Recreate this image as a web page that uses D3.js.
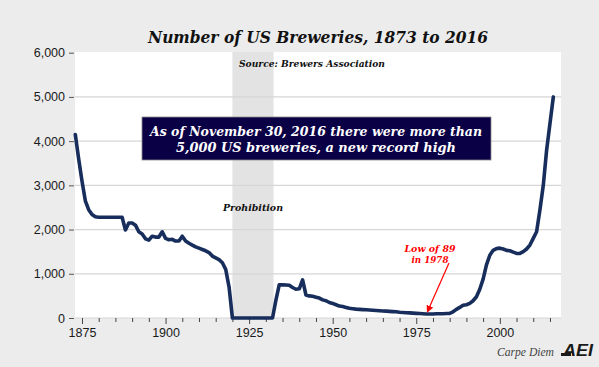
<!DOCTYPE html>
<html>
<head>
<meta charset="utf-8">
<script src="https://cdn.jsdelivr.net/npm/d3@7"></script>
<style>
  html, body { margin: 0; padding: 0; background: #ececec; }
  svg { display: block; }
</style>
</head>
<body>
<div id="chart"></div>
<script>
// Number of US breweries per year
const years = [
  1873, 1874, 1875, 1876, 1877, 1878, 1879, 1880, 1881, 1882, 1883, 1884, 1885, 1886, 1887,
  1888, 1889, 1890, 1891, 1892, 1893, 1894, 1895, 1896, 1897, 1898, 1899, 1900, 1901, 1902,
  1903, 1904, 1905, 1906, 1907, 1908, 1909, 1910, 1911, 1912, 1913, 1914, 1915, 1916, 1917,
  1918, 1919, 1920, 1921, 1922, 1923, 1924, 1925, 1926, 1927, 1928, 1929, 1930, 1931, 1932,
  1933, 1934, 1935, 1936, 1937, 1938, 1939, 1940, 1941, 1942, 1943, 1944, 1945, 1946, 1947,
  1948, 1949, 1950, 1951, 1952, 1953, 1954, 1955, 1956, 1957, 1958, 1959, 1960, 1961, 1962,
  1963, 1964, 1965, 1966, 1967, 1968, 1969, 1970, 1971, 1972, 1973, 1974, 1975, 1976, 1977,
  1978, 1979, 1980, 1981, 1982, 1983, 1984, 1985, 1986, 1987, 1988, 1989, 1990, 1991, 1992,
  1993, 1994, 1995, 1996, 1997, 1998, 1999, 2000, 2001, 2002, 2003, 2004, 2005, 2006, 2007,
  2008, 2009, 2010, 2011, 2012, 2013, 2014, 2015, 2016
];
const breweries = [
  4150, 3600, 3100, 2650, 2450, 2340, 2290, 2280, 2280, 2280, 2280, 2280, 2280, 2280, 2280,
  1990, 2150, 2150, 2100, 1950, 1900, 1790, 1760, 1850, 1830, 1830, 1950, 1800, 1770, 1780,
  1740, 1740, 1850, 1740, 1690, 1650, 1610, 1580, 1550, 1520, 1480, 1400, 1360, 1320, 1250,
  1100, 700, 0, 0, 0, 0, 0, 0, 0, 0, 0, 0, 0, 0, 0,
  400, 750, 750, 745, 740, 690, 650, 660, 860, 520, 500, 490, 470, 450, 410,
  390, 350, 330, 300, 270, 260, 240, 220, 210, 200, 195, 190, 185, 180, 175,
  170, 165, 160, 155, 150, 145, 140, 130, 125, 120, 115, 110, 105, 100, 95,
  89, 90, 92, 95, 95, 95, 100, 105, 140, 195, 240, 290, 300, 330, 390,
  480, 650, 880, 1200, 1420, 1530, 1570, 1580, 1560, 1530, 1520, 1490, 1460, 1460, 1500,
  1560, 1650, 1800, 1950, 2450, 3000, 3800, 4400, 5000
];
const yTicks = [0, 1000, 2000, 3000, 4000, 5000, 6000];
const xLabelYears = [1875, 1900, 1925, 1950, 1975, 2000];
const prohibition = [1920, 1932.3];
const lowPoint = { year: 1978, value: 89 };

const width = 599, height = 367;
const plot = { left: 75, right: 561, top: 52, bottom: 318 };

const svg = d3.select("#chart").append("svg")
    .attr("width", width)
    .attr("height", height);

svg.append("rect")
    .attr("width", width).attr("height", height)
    .attr("fill", "#ececec");

const x = d3.scaleLinear()
    .domain([1873, 2018])
    .range([75.3, 560]);

const y = d3.scaleLinear()
    .domain([0, 6000])
    .range([318, 52.7]);

// white plot area
svg.append("rect")
    .attr("x", plot.left).attr("y", plot.top)
    .attr("width", plot.right - plot.left)
    .attr("height", plot.bottom - plot.top)
    .attr("fill", "#fff");

// prohibition shading
svg.append("rect")
    .attr("x", x(prohibition[0]))
    .attr("y", plot.top)
    .attr("width", x(prohibition[1]) - x(prohibition[0]))
    .attr("height", plot.bottom - plot.top)
    .attr("fill", "#e3e3e3");

// gridlines
svg.append("g")
    .selectAll("line")
    .data(yTicks.filter(d => d < 6000))
    .enter().append("line")
    .attr("x1", plot.left).attr("x2", plot.right)
    .attr("y1", d => y(d)).attr("y2", d => y(d))
    .attr("stroke", "#d6d6d6")
    .attr("stroke-width", 1.2);

// y axis
const yAxis = svg.append("g")
    .attr("transform", `translate(${plot.left - 1},0)`)
    .call(d3.axisLeft(y).tickValues(yTicks).tickSize(5).tickPadding(4).tickFormat(d3.format(",")));
yAxis.select(".domain").remove();
yAxis.selectAll(".tick line").attr("stroke", "#555");
yAxis.selectAll("text")
    .attr("fill", "#1a1a1a")
    .style("font-family", "'Liberation Sans', Arial, sans-serif")
    .style("font-size", "12.5px");

// x axis: minor ticks every 5 years, labels every 25
const xAxis = svg.append("g")
    .attr("transform", `translate(0,${plot.bottom})`)
    .call(d3.axisBottom(x).tickValues(d3.range(1875, 2016, 5)).tickSize(4)
        .tickFormat(d => xLabelYears.includes(d) ? d : ""));
xAxis.select(".domain").remove();
xAxis.selectAll(".tick line")
    .attr("stroke", "#444")
    .attr("y2", d => xLabelYears.includes(d) ? 6 : 4);
xAxis.selectAll("text")
    .attr("y", 10)
    .attr("fill", "#1a1a1a")
    .style("font-family", "'Liberation Sans', Arial, sans-serif")
    .style("font-size", "12.5px");

// the line
const series = years.map((yr, i) => ({ year: yr, value: breweries[i] }));
const line = d3.line()
    .x(d => x(d.year))
    .y(d => y(d.value));

svg.append("path")
    .datum(series)
    .attr("d", line)
    .attr("fill", "none")
    .attr("stroke", "#172d5b")
    .attr("stroke-width", 3.6)
    .attr("stroke-linejoin", "round")
    .attr("stroke-linecap", "round");

const serif = "'DejaVu Serif', Georgia, serif";

// serif label with a fixed span width (Georgia is not installed)
function label(px, py, txt, size, span, opts = {}) {
    return svg.append("text")
        .attr("x", px).attr("y", py)
        .attr("text-anchor", "middle")
        .style("font-family", serif)
        .style("font-style", "italic")
        .style("font-weight", opts.bold === false ? "normal" : "bold")
        .style("font-size", size + "px")
        .attr("textLength", span)
        .attr("lengthAdjust", "spacingAndGlyphs")
        .attr("fill", opts.fill || "#111")
        .text(txt);
}

label(318, 43, "Number of US Breweries, 1873 to 2016", 17, 340);
label(312, 67, "Source: Brewers Association", 9, 146);

// callout box
svg.append("rect")
    .attr("x", 142).attr("y", 117)
    .attr("width", 349).attr("height", 43)
    .attr("fill", "#0a0046")
    .attr("stroke", "#8a8a8a")
    .attr("stroke-width", 0.8);

label(316, 135.5, "As of November 30, 2016 there were more than", 13.5, 332, { fill: "#fff" });
label(316, 151.5, "5,000 US breweries, a new record high", 13.5, 280, { fill: "#fff" });

label(253, 211, "Prohibition", 9.5, 60);

// low-point annotation
const red = "#ff0000";
label(430, 252, "Low of 89", 10, 51, { fill: red });
label(430, 263, "in 1978", 10, 37, { fill: red });

svg.append("defs").append("marker")
    .attr("id", "arrow")
    .attr("viewBox", "0 0 10 10")
    .attr("refX", 9).attr("refY", 5)
    .attr("markerWidth", 6).attr("markerHeight", 6)
    .attr("orient", "auto")
    .append("path")
    .attr("d", "M0,0L10,5L0,10Z")
    .attr("fill", red);

svg.append("line")
    .attr("x1", 449).attr("y1", 263)
    .attr("x2", x(lowPoint.year) + 1).attr("y2", y(lowPoint.value) - 2)
    .attr("stroke", red)
    .attr("stroke-width", 1.2)
    .attr("marker-end", "url(#arrow)");

// footer
svg.append("text")
    .attr("x", 554).attr("y", 356)
    .attr("text-anchor", "end")
    .style("font-family", "'Liberation Serif', 'Times New Roman', serif")
    .style("font-style", "italic")
    .style("font-size", "11.6px")
    .attr("fill", "#444")
    .text("Carpe Diem");

const logo = svg.append("g").attr("transform", "translate(561,356)");
logo.append("text")
    .attr("x", 2).attr("y", 0)
    .style("font-family", "'Liberation Sans', Arial, sans-serif")
    .style("font-style", "italic")
    .style("font-weight", "bold")
    .style("font-size", "17px")
    .attr("textLength", 30)
    .attr("lengthAdjust", "spacingAndGlyphs")
    .attr("fill", "#1a1a1a")
    .text("AEI");
logo.append("rect")
    .attr("x", 0).attr("y", -3)
    .attr("width", 10).attr("height", 3)
    .attr("fill", "#1a1a1a");
</script>
</body>
</html>
